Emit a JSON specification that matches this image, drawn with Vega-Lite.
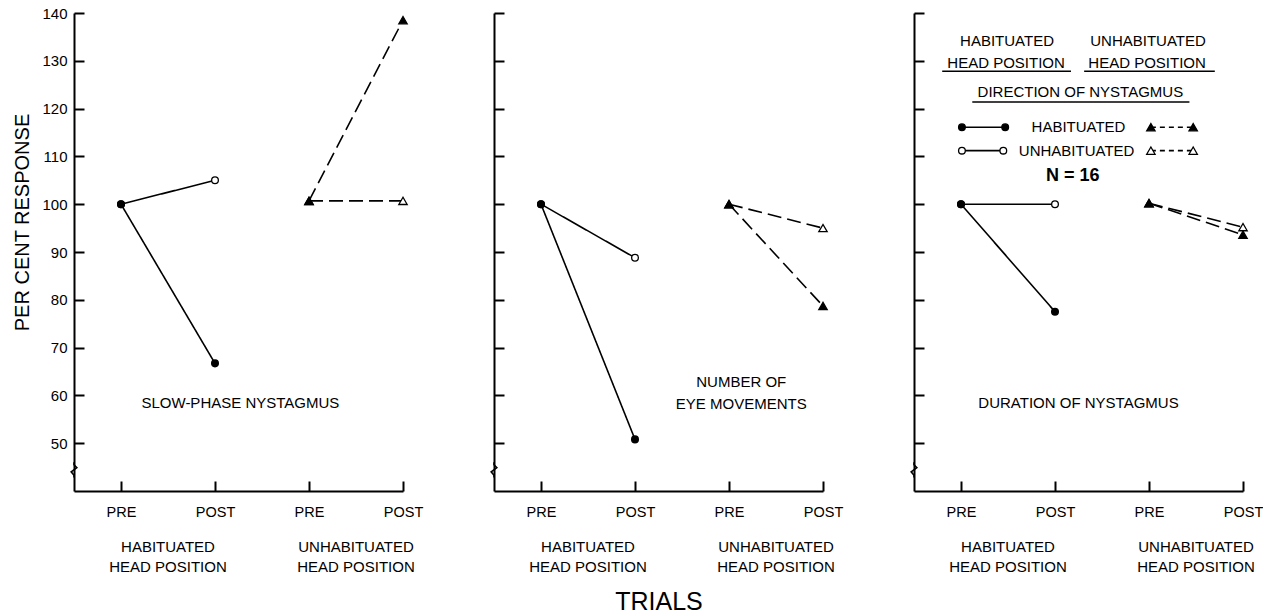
{
  "$schema": "https://vega.github.io/schema/vega-lite/v6.json",
  "autosize": {"type": "pad"},
  "padding": {"left": 12, "top": 6, "right": 0, "bottom": 0},
  "spacing": 91,
  "bounds": "flush",
  "config": {
    "view": {"stroke": null},
    "axis": {"labelFont": "Liberation Sans", "titleFont": "Liberation Sans", "labelColor": "black", "titleColor": "black", "domainColor": "black", "tickColor": "black", "domainWidth": 2, "tickWidth": 2, "grid": false, "titleFontWeight": "normal"},
    "axisX": {"labelFontSize": 14.5, "labelFlush": false, "labelOverlap": false},
    "axisY": {"labelFontSize": 15},
    "text": {"font": "Liberation Sans", "fontSize": 15, "color": "black"}
  },
  "datasets": {
    "pts": [
      {"panel": "slow", "head": "habituated", "dir": "unhabituated", "x": 1, "y": 100},
      {"panel": "slow", "head": "habituated", "dir": "unhabituated", "x": 2, "y": 105},
      {"panel": "slow", "head": "unhabituated", "dir": "unhabituated", "x": 3, "y": 100.7},
      {"panel": "slow", "head": "unhabituated", "dir": "unhabituated", "x": 4, "y": 100.7},
      {"panel": "slow", "head": "habituated", "dir": "habituated", "x": 1, "y": 100},
      {"panel": "slow", "head": "habituated", "dir": "habituated", "x": 2, "y": 66.7},
      {"panel": "slow", "head": "unhabituated", "dir": "habituated", "x": 3, "y": 100.7},
      {"panel": "slow", "head": "unhabituated", "dir": "habituated", "x": 4, "y": 138.5},
      {"panel": "eye", "head": "habituated", "dir": "unhabituated", "x": 1, "y": 100},
      {"panel": "eye", "head": "habituated", "dir": "unhabituated", "x": 2, "y": 88.8},
      {"panel": "eye", "head": "unhabituated", "dir": "unhabituated", "x": 3, "y": 100},
      {"panel": "eye", "head": "unhabituated", "dir": "unhabituated", "x": 4, "y": 95},
      {"panel": "eye", "head": "habituated", "dir": "habituated", "x": 1, "y": 100},
      {"panel": "eye", "head": "habituated", "dir": "habituated", "x": 2, "y": 50.8},
      {"panel": "eye", "head": "unhabituated", "dir": "habituated", "x": 3, "y": 100},
      {"panel": "eye", "head": "unhabituated", "dir": "habituated", "x": 4, "y": 78.7},
      {"panel": "duration", "head": "habituated", "dir": "unhabituated", "x": 1, "y": 100},
      {"panel": "duration", "head": "habituated", "dir": "unhabituated", "x": 2, "y": 100},
      {"panel": "duration", "head": "unhabituated", "dir": "unhabituated", "x": 3, "y": 100.2},
      {"panel": "duration", "head": "unhabituated", "dir": "unhabituated", "x": 4, "y": 95.2},
      {"panel": "duration", "head": "habituated", "dir": "habituated", "x": 1, "y": 100},
      {"panel": "duration", "head": "habituated", "dir": "habituated", "x": 2, "y": 77.5},
      {"panel": "duration", "head": "unhabituated", "dir": "habituated", "x": 3, "y": 100.2},
      {"panel": "duration", "head": "unhabituated", "dir": "habituated", "x": 4, "y": 93.6}
    ],
    "notes": [
      {"panel": "slow", "kind": "label", "x": 2.27, "y": 58.5, "text": "SLOW-PHASE NYSTAGMUS"},
      {"panel": "eye", "kind": "label", "x": 3.13, "y": 62.7, "text": "NUMBER OF"},
      {"panel": "eye", "kind": "label", "x": 3.13, "y": 58.3, "text": "EYE MOVEMENTS"},
      {"panel": "duration", "kind": "label", "x": 2.25, "y": 58.5, "text": "DURATION OF NYSTAGMUS"},
      {"panel": "slow", "kind": "label", "x": 1.5, "y": 28.3, "text": "HABITUATED"},
      {"panel": "slow", "kind": "label", "x": 1.5, "y": 24.2, "text": "HEAD POSITION"},
      {"panel": "slow", "kind": "label", "x": 3.5, "y": 28.3, "text": "UNHABITUATED"},
      {"panel": "slow", "kind": "label", "x": 3.5, "y": 24.2, "text": "HEAD POSITION"},
      {"panel": "eye", "kind": "label", "x": 1.5, "y": 28.3, "text": "HABITUATED"},
      {"panel": "eye", "kind": "label", "x": 1.5, "y": 24.2, "text": "HEAD POSITION"},
      {"panel": "eye", "kind": "label", "x": 3.5, "y": 28.3, "text": "UNHABITUATED"},
      {"panel": "eye", "kind": "label", "x": 3.5, "y": 24.2, "text": "HEAD POSITION"},
      {"panel": "duration", "kind": "label", "x": 1.5, "y": 28.3, "text": "HABITUATED"},
      {"panel": "duration", "kind": "label", "x": 1.5, "y": 24.2, "text": "HEAD POSITION"},
      {"panel": "duration", "kind": "label", "x": 3.5, "y": 28.3, "text": "UNHABITUATED"},
      {"panel": "duration", "kind": "label", "x": 3.5, "y": 24.2, "text": "HEAD POSITION"},
      {"panel": "duration", "kind": "label", "x": 1.49, "y": 134.1, "text": "HABITUATED"},
      {"panel": "duration", "kind": "label", "x": 1.48, "y": 129.5, "text": "HEAD POSITION"},
      {"panel": "duration", "kind": "label", "x": 2.99, "y": 134.1, "text": "UNHABITUATED"},
      {"panel": "duration", "kind": "label", "x": 2.98, "y": 129.5, "text": "HEAD POSITION"},
      {"panel": "duration", "kind": "label", "x": 2.27, "y": 123.4, "text": "DIRECTION OF NYSTAGMUS"},
      {"panel": "duration", "kind": "label", "x": 2.25, "y": 116.1, "text": "HABITUATED"},
      {"panel": "duration", "kind": "label", "x": 2.23, "y": 111.2, "text": "UNHABITUATED"},
      {"panel": "duration", "kind": "n", "x": 2.19, "y": 105.8, "text": "N = 16"}
    ],
    "key": [
      {"head": "habituated", "dir": "habituated", "x": 1.01, "y": 116.1},
      {"head": "habituated", "dir": "habituated", "x": 1.47, "y": 116.1},
      {"head": "unhabituated", "dir": "habituated", "x": 3.02, "y": 116.1},
      {"head": "unhabituated", "dir": "habituated", "x": 3.47, "y": 116.1},
      {"head": "habituated", "dir": "unhabituated", "x": 1.01, "y": 111.2},
      {"head": "habituated", "dir": "unhabituated", "x": 1.45, "y": 111.2},
      {"head": "unhabituated", "dir": "unhabituated", "x": 3.02, "y": 111.2},
      {"head": "unhabituated", "dir": "unhabituated", "x": 3.47, "y": 111.2}
    ],
    "rules": [
      {"x": 0.8, "x2": 2.17, "y": 127.8},
      {"x": 2.31, "x2": 3.7, "y": 127.8},
      {"x": 1.12, "x2": 3.43, "y": 121.4}
    ],
    "brk": [
      {"i": 0, "x": 0.5, "y": 46.0},
      {"i": 1, "x": 0.5, "y": 45.5},
      {"i": 2, "x": 0.53, "y": 44.9},
      {"i": 3, "x": 0.47, "y": 44.0},
      {"i": 4, "x": 0.5, "y": 43.3},
      {"i": 5, "x": 0.5, "y": 42.8}
    ]
  },
  "hconcat": [
    {
      "width": 329, "height": 478,
      "encoding": {
        "x": {"field": "x", "type": "quantitative", "scale": {"domain": [0.5, 4], "nice": false, "zero": false}, "axis": {"values": [1, 2, 3, 4], "labelExpr": "datum.value % 2 == 1 ? 'PRE' : 'POST'", "title": null, "tickSize": -10, "labelPadding": 24}},
        "y": {"field": "y", "type": "quantitative", "scale": {"domain": [40, 140], "nice": false, "zero": false}, "axis": {"values": [50, 60, 70, 80, 90, 100, 110, 120, 130, 140], "tickSize": -10, "labelPadding": 17, "title": "PER CENT RESPONSE", "titleFontSize": 20, "titleX": -52, "titleY": 209, "titleBaseline": "middle"}}
      },
      "layer": [
        {"data": {"name": "brk"}, "mark": {"type": "line", "color": "black", "strokeWidth": 1.6}, "encoding": {"order": {"field": "i", "type": "quantitative"}}},
        {"data": {"name": "pts"}, "transform": [{"filter": "datum.panel === 'slow'"}], "mark": {"type": "line", "color": "black", "strokeWidth": 1.6},
         "encoding": {"detail": [{"field": "head"}, {"field": "dir"}], "strokeDash": {"field": "head", "type": "nominal", "scale": {"domain": ["habituated", "unhabituated"], "range": [[1, 0], [14, 6]]}, "legend": null}}},
        {"data": {"name": "pts"}, "transform": [{"filter": "datum.panel === 'slow'"}], "mark": {"type": "point", "filled": true, "stroke": "black", "strokeWidth": 1.3, "opacity": 1},
         "encoding": {"shape": {"field": "head", "type": "nominal", "scale": {"domain": ["habituated", "unhabituated"], "range": ["circle", "triangle-up"]}, "legend": null},
                      "fill": {"field": "dir", "type": "nominal", "scale": {"domain": ["habituated", "unhabituated"], "range": ["black", "white"]}, "legend": null},
                      "size": {"field": "head", "type": "nominal", "scale": {"domain": ["habituated", "unhabituated"], "range": [45, 70]}, "legend": null}}},
        {"data": {"name": "notes"}, "transform": [{"filter": "datum.panel === 'slow'"}], "mark": {"type": "text", "align": "center", "baseline": "middle"}, "encoding": {"text": {"field": "text"}}}
      ]
    },
    {
      "width": 329, "height": 478,
      "encoding": {
        "x": {"field": "x", "type": "quantitative", "scale": {"domain": [0.5, 4], "nice": false, "zero": false}, "axis": {"values": [1, 2, 3, 4], "labelExpr": "datum.value % 2 == 1 ? 'PRE' : 'POST'", "tickSize": -10, "labelPadding": 24, "title": "TRIALS", "titleFontSize": 25, "titleY": 110, "titleBaseline": "middle"}},
        "y": {"field": "y", "type": "quantitative", "scale": {"domain": [40, 140], "nice": false, "zero": false}, "axis": {"values": [50, 60, 70, 80, 90, 100, 110, 120, 130, 140], "tickSize": -10, "labels": false, "title": null}}
      },
      "layer": [
        {"data": {"name": "brk"}, "mark": {"type": "line", "color": "black", "strokeWidth": 1.6}, "encoding": {"order": {"field": "i", "type": "quantitative"}}},
        {"data": {"name": "pts"}, "transform": [{"filter": "datum.panel === 'eye'"}], "mark": {"type": "line", "color": "black", "strokeWidth": 1.6},
         "encoding": {"detail": [{"field": "head"}, {"field": "dir"}], "strokeDash": {"field": "head", "type": "nominal", "scale": {"domain": ["habituated", "unhabituated"], "range": [[1, 0], [13, 6]]}, "legend": null}}},
        {"data": {"name": "pts"}, "transform": [{"filter": "datum.panel === 'eye'"}], "mark": {"type": "point", "filled": true, "stroke": "black", "strokeWidth": 1.3, "opacity": 1},
         "encoding": {"shape": {"field": "head", "type": "nominal", "scale": {"domain": ["habituated", "unhabituated"], "range": ["circle", "triangle-up"]}, "legend": null},
                      "fill": {"field": "dir", "type": "nominal", "scale": {"domain": ["habituated", "unhabituated"], "range": ["black", "white"]}, "legend": null},
                      "size": {"field": "head", "type": "nominal", "scale": {"domain": ["habituated", "unhabituated"], "range": [45, 70]}, "legend": null}}},
        {"data": {"name": "notes"}, "transform": [{"filter": "datum.panel === 'eye'"}], "mark": {"type": "text", "align": "center", "baseline": "middle"}, "encoding": {"text": {"field": "text"}}}
      ]
    },
    {
      "width": 329, "height": 478,
      "encoding": {
        "x": {"field": "x", "type": "quantitative", "scale": {"domain": [0.5, 4], "nice": false, "zero": false}, "axis": {"values": [1, 2, 3, 4], "labelExpr": "datum.value % 2 == 1 ? 'PRE' : 'POST'", "tickSize": -10, "labelPadding": 24, "title": null}},
        "y": {"field": "y", "type": "quantitative", "scale": {"domain": [40, 140], "nice": false, "zero": false}, "axis": {"values": [50, 60, 70, 80, 90, 100, 110, 120, 130, 140], "tickSize": -10, "labels": false, "title": null}}
      },
      "layer": [
        {"data": {"name": "brk"}, "mark": {"type": "line", "color": "black", "strokeWidth": 1.6}, "encoding": {"order": {"field": "i", "type": "quantitative"}}},
        {"data": {"name": "pts"}, "transform": [{"filter": "datum.panel === 'duration'"}], "mark": {"type": "line", "color": "black", "strokeWidth": 1.6},
         "encoding": {"detail": [{"field": "head"}, {"field": "dir"}], "strokeDash": {"field": "head", "type": "nominal", "scale": {"domain": ["habituated", "unhabituated"], "range": [[1, 0], [13, 6]]}, "legend": null}}},
        {"data": {"name": "pts"}, "transform": [{"filter": "datum.panel === 'duration'"}], "mark": {"type": "point", "filled": true, "stroke": "black", "strokeWidth": 1.3, "opacity": 1},
         "encoding": {"shape": {"field": "head", "type": "nominal", "scale": {"domain": ["habituated", "unhabituated"], "range": ["circle", "triangle-up"]}, "legend": null},
                      "fill": {"field": "dir", "type": "nominal", "scale": {"domain": ["habituated", "unhabituated"], "range": ["black", "white"]}, "legend": null},
                      "size": {"field": "head", "type": "nominal", "scale": {"domain": ["habituated", "unhabituated"], "range": [45, 70]}, "legend": null}}},
        {"data": {"name": "key"}, "transform": [{"filter": "datum.head === 'habituated'"}], "mark": {"type": "line", "color": "black", "strokeWidth": 1.6}, "encoding": {"detail": [{"field": "head"}, {"field": "dir"}]}},
        {"data": {"name": "key"}, "transform": [{"filter": "datum.head === 'unhabituated'"}], "mark": {"type": "line", "color": "black", "strokeWidth": 1.6, "strokeDash": [5, 4]}, "encoding": {"detail": [{"field": "head"}, {"field": "dir"}]}},
        {"data": {"name": "key"}, "mark": {"type": "point", "filled": true, "stroke": "black", "strokeWidth": 1.3, "opacity": 1},
         "encoding": {"shape": {"field": "head", "type": "nominal", "scale": {"domain": ["habituated", "unhabituated"], "range": ["circle", "triangle-up"]}, "legend": null},
                      "fill": {"field": "dir", "type": "nominal", "scale": {"domain": ["habituated", "unhabituated"], "range": ["black", "white"]}, "legend": null},
                      "size": {"field": "head", "type": "nominal", "scale": {"domain": ["habituated", "unhabituated"], "range": [45, 70]}, "legend": null}}},
        {"data": {"name": "rules"}, "mark": {"type": "rule", "color": "black", "strokeWidth": 1.5}, "encoding": {"x2": {"field": "x2"}}},
        {"data": {"name": "notes"}, "transform": [{"filter": "datum.panel === 'duration' && datum.kind === 'label'"}], "mark": {"type": "text", "align": "center", "baseline": "middle"}, "encoding": {"text": {"field": "text"}}},
        {"data": {"name": "notes"}, "transform": [{"filter": "datum.panel === 'duration' && datum.kind === 'n'"}], "mark": {"type": "text", "align": "center", "baseline": "middle", "fontSize": 18, "fontWeight": "bold"}, "encoding": {"text": {"field": "text"}}}
      ]
    }
  ]
}
